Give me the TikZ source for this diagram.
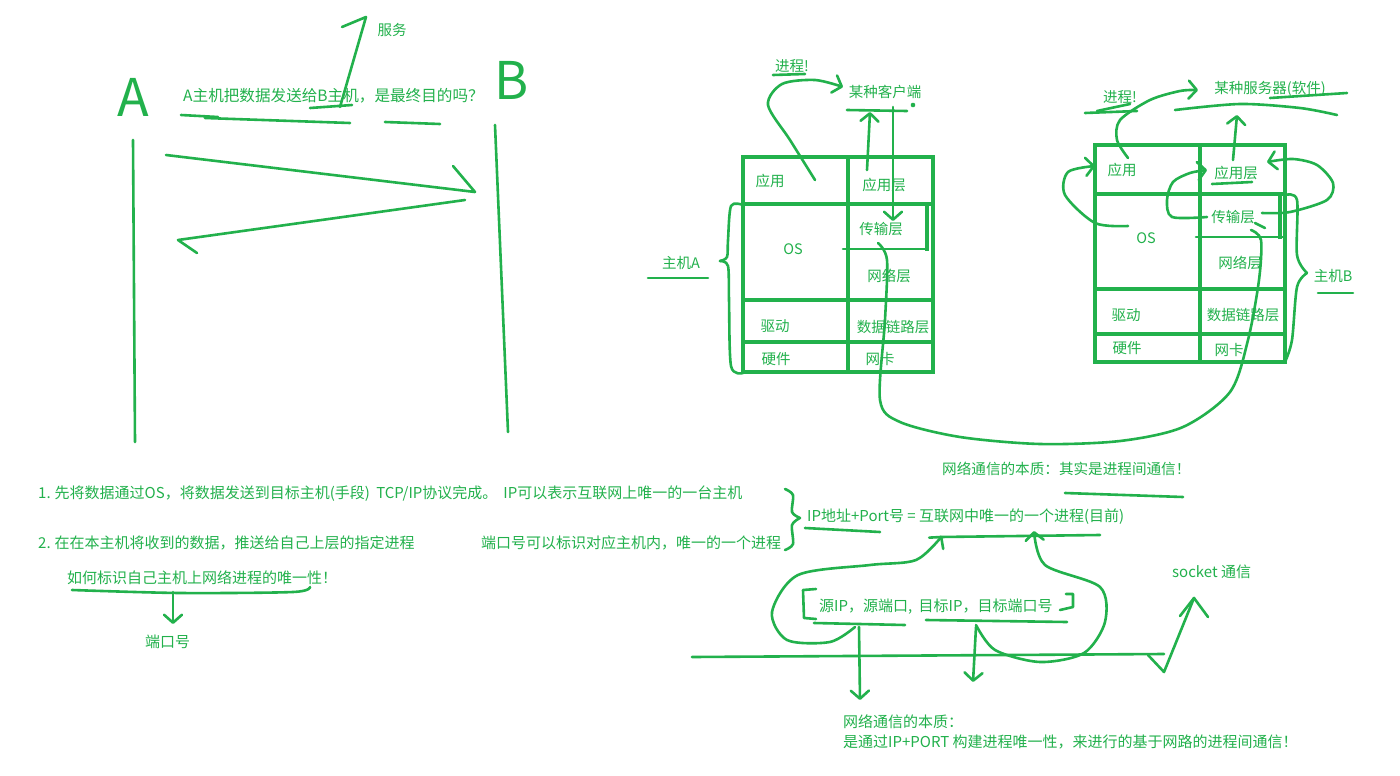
\documentclass[tikz,border=0pt]{standalone}
\usepackage{fontspec}
\setmainfont{Noto Sans CJK SC}
\usetikzlibrary{arrows.meta}
\definecolor{pen}{RGB}{34,177,76}
\begin{document}
\begin{tikzpicture}[x=1pt,y=-1pt,
  pen/.style={draw=pen, line width=2.6pt, line cap=round, line join=round},
  tbl/.style={draw=pen, line width=3.6pt, line cap=rect},
  barb/.style={-{Straight Barb[length=8pt,width=18pt,round]}},
  txt/.style={text=pen, font=\fontsize{15}{18}\selectfont, inner sep=0pt, anchor=west},
  cell/.style={text=pen, font=\fontsize{14.5}{17}\selectfont, inner sep=0pt},
  big/.style={text=pen, font=\fontsize{52}{52}\selectfont, inner sep=0pt}]
\useasboundingbox (0,0) rectangle (1400,776);
\fill[white] (0,0) rectangle (1400,776);

% ---------------- top left: A and B ----------------
\node[big] (lA) at (133,97) {A};
\node[big] (lB) at (512,80) {B};
\draw[pen] (133,140) -- (135,442);
\draw[pen] (495,125) -- (508,432);
\draw[pen] (166,155) -- (475,192) -- (453,166);
\draw[pen] (465,200) -- (178,240) -- (197,253);
\node[txt, font=\fontsize{15.6}{18}\selectfont] (q) at (183,96) {A主机把数据发送给B主机，是最终目的吗？};
\draw[pen] (181,115) -- (218,117);
\draw[pen] (205,118) -- (350,123);
\draw[pen] (385,122) -- (440,124);
\draw[pen] (310,108) -- (352,105);
\draw[pen] (340,107) -- (366,17) -- (342,27);
\node[cell] (fw) at (392,30) {服务};

% ---------------- host A ----------------
\draw[tbl] (743,157) rectangle (933,372);
\draw[tbl] (848,157) -- (848,372);
\draw[tbl] (743,204) -- (933,204);
\draw[tbl] (743,300) -- (933,300);
\draw[tbl] (743,342) -- (933,342);
\draw[pen] (843,249) -- (927,249);
\draw[tbl] (927,204) -- (927,249);
\node[cell] (a1) at (770,181) {应用};
\node[cell] (a2) at (884,185) {应用层};
\node[cell] (a3) at (793,249) {OS};
\node[cell] (a4) at (881,229) {传输层};
\node[cell] (a5) at (889,276) {网络层};
\node[cell] (a6) at (775,326) {驱动};
\node[cell] (a7) at (893,327) {数据链路层};
\node[cell] (a8) at (776,359) {硬件};
\node[cell] (a9) at (880,359) {网卡};
\draw[pen] plot[smooth] coordinates {(743,205) (731,206) (728,240) (727,257) (720,261)};
\draw[pen] plot[smooth] coordinates {(720,261) (728,266) (729,300) (731,366) (743,373)};
\node[cell] (hA) at (681,263) {主机A};
\draw[pen] (648,278) -- (708,278);
\node[cell] (pA) at (792,66) {进程!};
\draw[pen] (773,75) -- (805,74);
\node[cell] (kh) at (885,92) {某种客户端};
\draw[pen] (847,110) -- (907,111);
\fill[pen] (913,105) circle (1.2pt);
\draw[pen,barb] plot[smooth] coordinates {(815,180) (790,140) (768,105) (782,84) (815,80) (843,87)};
\draw[pen,barb] (867,170) -- (870,112);
\draw[pen,barb] (893,107) -- (893,221);

% ---------------- host B ----------------
\draw[tbl] (1095,145) rectangle (1285,362);
\draw[tbl] (1200,145) -- (1200,362);
\draw[tbl] (1095,194) -- (1285,194);
\draw[tbl] (1095,289) -- (1285,289);
\draw[tbl] (1095,334) -- (1285,334);
\draw[pen] (1196,237) -- (1283,237);
\draw[tbl] (1280,194) -- (1280,237);
\node[cell] (b1) at (1122,170) {应用};
\node[cell] (b2) at (1236,173) {应用层};
\node[cell] (b3) at (1146,238) {OS};
\node[cell] (b4) at (1233,217) {传输层};
\node[cell] (b5) at (1240,263) {网络层};
\node[cell] (b6) at (1126,315) {驱动};
\node[cell] (b7) at (1243,315) {数据链路层};
\node[cell] (b8) at (1127,348) {硬件};
\node[cell] (b9) at (1229,350) {网卡};
\draw[pen] (1212,184) -- (1252,182);
\node[cell] (pB) at (1120,97) {进程!};
\draw[pen] (1085,113) -- (1137,111);
\draw[pen] (1097,111) -- (1130,104);
\node[cell] (fwq) at (1270,89) {某种服务器(软件)};
\draw[pen] plot[smooth] coordinates {(1175,110) (1240,104) (1300,108) (1337,115)};
\draw[pen] (1270,98) -- (1347,93);
\draw[pen,barb] (1233,160) -- (1237,115);
\draw[pen,barb] plot[smooth] coordinates {(1128,158) (1117,140) (1120,120) (1150,100) (1180,91) (1198,90)};
\draw[pen,barb] plot[smooth] coordinates {(1128,226) (1095,223) (1065,195) (1068,172) (1095,166)};
\draw[pen,barb] plot[smooth] coordinates {(1207,217) (1172,217) (1167,200) (1173,182) (1190,173) (1207,170)};
\draw[pen,barb] plot[smooth] coordinates {(1262,213) (1290,212) (1327,200) (1333,183) (1317,165) (1293,159) (1267,162)};
\draw[pen] plot[smooth] coordinates {(1285,195) (1297,200) (1297,255) (1307,273)};
\draw[pen] plot[smooth] coordinates {(1307,273) (1297,287) (1292,340) (1285,362)};
\node[cell] (hB) at (1333,276) {主机B};
\draw[pen] (1318,293) -- (1353,293);
\draw[pen] (1255,223) -- (1265,228);

% connection between host A and host B
\draw[pen] plot[smooth] coordinates {(878,243) (887,260) (885,320) (880,400) (900,422) (960,437) (1040,444) (1120,441) (1183,427) (1230,392) (1248,340) (1259,280) (1261,240) (1251,230)};

% ---------------- bottom left texts ----------------
\node[txt] (t1) at (38,494) {1.\hspace{4pt}先将数据通过OS，将数据发送到目标主机(手段)\hspace{3pt} TCP/IP协议完成。\hspace{6pt}IP可以表示互联网上唯一的一台主机};
\node[txt] (t2) at (38,543) {2.\hspace{4pt}在在本主机将收到的数据，推送给自己上层的指定进程};
\node[txt] (t3) at (481,543) {端口号可以标识对应主机内，唯一的一个进程};
\draw[pen] plot[smooth] coordinates {(785,489) (793,495) (792,512) (800,518)};
\draw[pen] plot[smooth] coordinates {(800,518) (792,525) (793,544) (785,550)};
\node[txt] (t4) at (67,578) {如何标识自己主机上网络进程的唯一性！};
\draw[pen] plot[smooth] coordinates {(72,590) (180,593) (293,592) (310,587)};
\draw[pen,barb] (173,592) -- (173,624);
\node[txt] (dk) at (145,642) {端口号};

% ---------------- bottom right ----------------
\node[txt, font=\fontsize{14.6}{18}\selectfont] (ess) at (942,469) {网络通信的本质：其实是进程间通信！};
\draw[pen] (1065,493) -- (1183,497);
\node[txt] (ip) at (807,517) {IP地址+Port号 = 互联网中唯一的一个进程(目前)};
\draw[pen] (805,528) -- (880,532);
\draw[pen] (940,537) -- (1100,535);
\node[txt] (src) at (819,607) {源IP，源端口,\hspace{3pt} 目标IP，目标端口号};
\draw[pen] (816,589) -- (803,590) -- (804,618) -- (816,619);
\draw[pen] (1066,594) -- (1073,594) -- (1073,607) -- (1060,610);
\draw[pen] (814,623) -- (905,625);
\draw[pen] (926,620) -- (1067,622);
\draw[pen,barb] plot[smooth] coordinates {(855,627) (830,642) (787,640) (772,612) (798,575) (870,565) (916,560) (942,536)};
\draw[pen,barb] plot[smooth] coordinates {(976,625) (995,650) (1040,662) (1084,653) (1105,622) (1100,587) (1045,565) (1034,531)};
\draw[pen] (692,657) -- (1164,654);
\draw[pen] (1148,655) -- (1164,672) -- (1194,598);
\draw[pen] (1180,616) -- (1194,598) -- (1208,617);
\draw[pen,barb] (859,627) -- (860,700);
\draw[pen,barb] (976,627) -- (973,682);
\node[txt] (sock) at (1172,572) {socket 通信};
\node[txt] (e1) at (843,722) {网络通信的本质：};
\node[txt] (e2) at (843,742) {是通过IP+PORT 构建进程唯一性，来进行的基于网路的进程间通信！};
\end{tikzpicture}
\end{document}
